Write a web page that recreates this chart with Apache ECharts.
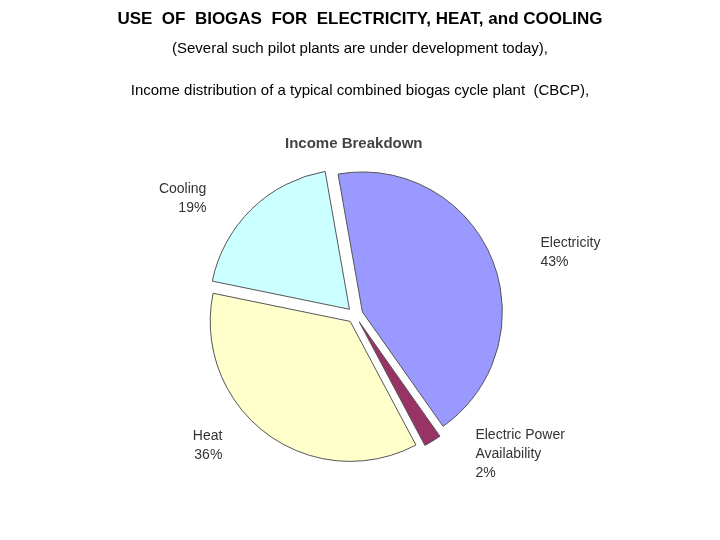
<!DOCTYPE html>
<html>
<head>
<meta charset="utf-8">
<script src="https://cdn.jsdelivr.net/npm/echarts@6/dist/echarts.min.js"></script>
<style>html,body{margin:0;background:#fff}#main{width:720px;height:540px}</style>
</head>
<body>
<div id="main"></div>
<script>
var categories = ['Electricity', 'Electric Power\nAvailability', 'Heat', 'Cooling'];
var values = [43, 2, 36, 19];
var colors = ['#9999ff', '#993366', '#ffffcc', '#ccffff'];

var myChart = echarts.init(document.getElementById('main'));

var option = {
    animation: false,
    title: [
        { text: 'USE  OF  BIOGAS  FOR  ELECTRICITY, HEAT, and COOLING', left: 'center', top: 6,
          textStyle: { fontFamily: 'Liberation Sans', fontSize: 17, fontWeight: 'bold', color: '#000' } },
        { text: '(Several such pilot plants are under development today),', left: 'center', top: 36,
          textStyle: { fontFamily: 'Liberation Sans', fontSize: 15, fontWeight: 'normal', color: '#000' } },
        { text: 'Income distribution of a typical combined biogas cycle plant  (CBCP),', left: 'center', top: 78,
          textStyle: { fontFamily: 'Liberation Sans', fontSize: 15, fontWeight: 'normal', color: '#000' } },
        { text: 'Income Breakdown', left: 280, top: 131,
          textStyle: { fontFamily: 'Liberation Sans', fontSize: 15, fontWeight: 'bold', color: '#444' } }
    ],
    series: [{
        type: 'pie',
        center: [355, 315],
        radius: 140,
        startAngle: 100,
        selectedMode: 'multiple',
        selectedOffset: 8,
        itemStyle: { borderColor: '#555', borderWidth: 1 },
        label: {
            position: 'outside',
            formatter: '{b}\n{d}%',
            fontFamily: 'Liberation Sans',
            fontSize: 14,
            color: '#333',
            lineHeight: 19
        },
        labelLine: { show: false },
        data: categories.map(function (c, i) {
            return { name: c, value: values[i], selected: true, itemStyle: { color: colors[i] } };
        })
    }]
};

myChart.setOption(option);
</script>
</body>
</html>
